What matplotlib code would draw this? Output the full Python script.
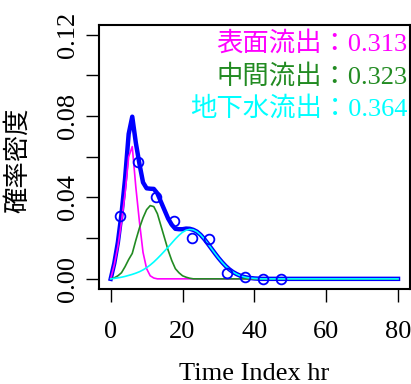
import numpy as np
import matplotlib
matplotlib.use("Agg")
import matplotlib.pyplot as plt

# 数字は明朝風のセリフ体、和文は Noto Sans CJK へフォールバック
plt.rcParams['font.family'] = ['Liberation Serif', 'Noto Sans CJK JP']

# --- データ ---
time_hr = np.arange(0, 81)

# 各成分の確率密度（0 hr から。以降は 0）
surface_head = [0.0, 0.007, 0.016, 0.028, 0.042, 0.060, 0.065, 0.045, 0.028,
                0.013, 0.005, 0.0015, 0.0004, 0.0]
inter_head = [0.0, 0.0005, 0.0015, 0.003, 0.006, 0.0095, 0.0125, 0.019, 0.025,
              0.030, 0.034, 0.036, 0.0355, 0.032, 0.026, 0.020, 0.014, 0.009,
              0.005, 0.003, 0.0015, 0.0008, 0.0003, 0.0]
ground_head = [0.0, 0.0002, 0.0005, 0.0008, 0.0012, 0.0017, 0.0022, 0.0028,
               0.0035, 0.0044, 0.0055, 0.0068, 0.0083, 0.0100, 0.0118, 0.0137,
               0.0156, 0.0176, 0.0196, 0.0214, 0.0229, 0.0239, 0.0243, 0.0241,
               0.0232, 0.0217, 0.0197, 0.0174, 0.0150, 0.0126, 0.0103, 0.0082,
               0.0063, 0.0047, 0.0034, 0.0024, 0.0016, 0.0010, 0.0006, 0.0004,
               0.0002, 0.0001, 0.0]

# 観測値（5 hr 区間の中点）
obs_hr = [2.5, 7.5, 12.5, 17.5, 22.5, 27.5, 32.5, 37.5, 42.5, 47.5]
obs_density = [0.031, 0.0575, 0.040, 0.0285, 0.0203, 0.0194, 0.0029, 0.001,
               0.0, 0.0]

comp_names = ["表面流出", "中間流出", "地下水流出"]
comp_shares = [0.313, 0.323, 0.364]
comp_colors = ["#FF00FF", "#228B22", "#00FFFF"]

xtick_vals = [0, 20, 40, 60, 80]
ytick_vals = [0.0, 0.02, 0.04, 0.06, 0.08, 0.10, 0.12]
ytick_labels = ["0.00", "", "0.04", "", "0.08", "", "0.12"]


def pad(vals):
    return np.array(vals + [0.0] * (len(time_hr) - len(vals)))


surface = pad(surface_head)
inter = pad(inter_head)
ground = pad(ground_head)
total = surface + inter + ground

# --- 描画 ---
fig = plt.figure(figsize=(4.11, 3.84), dpi=100)
ax = fig.add_axes([0.2414, 0.2484, 0.755, 0.6867])

ax.plot(time_hr, total, color="#0000FF", lw=3.2, zorder=2,
        solid_joinstyle='round')
for vals, c in zip([surface, inter, ground], comp_colors):
    ax.plot(time_hr, vals, color=c, lw=1.2, zorder=3)
ax.plot(obs_hr, obs_density, 'o', mfc='none', mec="#0000FF", ms=7, mew=1.3,
        zorder=4)

ax.set_xlim(-3.2, 83.2)
ax.set_ylim(-0.0048, 0.1248)
ax.set_xticks(xtick_vals)
ax.set_yticks(ytick_vals)
ax.set_yticklabels(ytick_labels)

ax.tick_params(direction='out', length=9.3, width=1.0, labelsize=19)
ax.tick_params(axis='x', pad=14)
ax.tick_params(axis='y', pad=5, labelrotation=90)
for lab in ax.get_yticklabels():
    lab.set_va('center')
for sp in ax.spines.values():
    sp.set_linewidth(1.5)

for i, (name, share, c) in enumerate(zip(comp_names, comp_shares, comp_colors)):
    ax.text(0.9936, 0.930 - 0.123 * i, f"{name}：{share:.3f}",
            transform=ax.transAxes, ha='right', va='center', color=c,
            fontsize=19)

ax.set_xlabel("Time Index hr", fontsize=19)
ax.xaxis.set_label_coords(0.5, -0.283)
ax.set_ylabel("確率密度", fontsize=19, va='center')
ax.yaxis.set_label_coords(-0.262, 0.488)

fig.savefig("out.png", dpi=100)
